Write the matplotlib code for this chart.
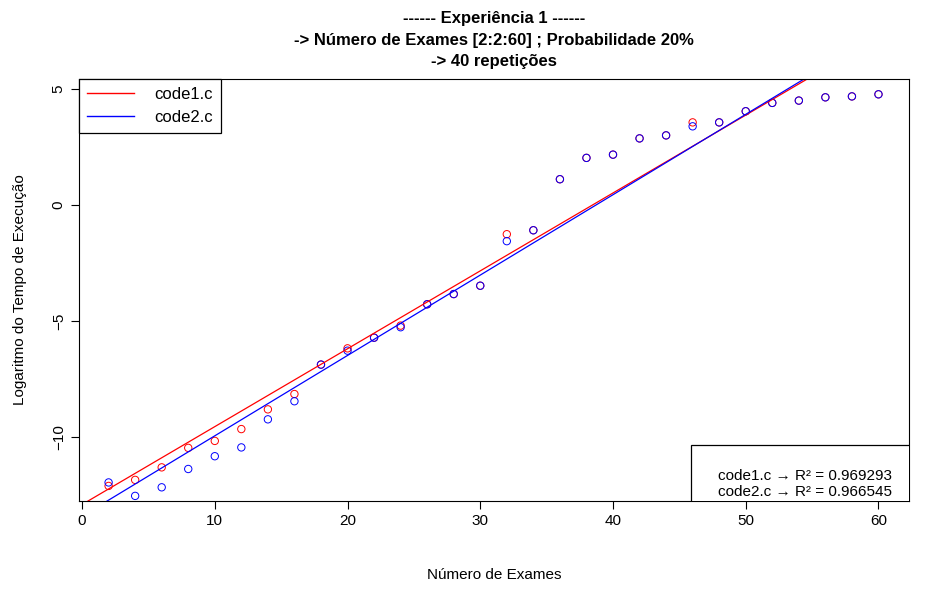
import numpy as np
import matplotlib
matplotlib.use('Agg')
import matplotlib.pyplot as plt
from matplotlib.patches import Rectangle

exames = np.arange(2, 61, 2)
code1 = [-12.11, -11.85, -11.31, -10.47, -10.17, -9.66, -8.81, -8.15, -6.88, -6.18,
         -5.72, -5.20, -4.28, -3.84, -3.48, -1.26, -1.09, 1.11, 2.03, 2.17,
         2.87, 3.00, 3.56, 3.56, 4.04, 4.40, 4.50, 4.64, 4.68, 4.77]
code2 = [-11.96, -12.54, -12.17, -11.38, -10.83, -10.45, -9.24, -8.46, -6.88, -6.28,
         -5.72, -5.27, -4.28, -3.84, -3.48, -1.56, -1.09, 1.11, 2.03, 2.17,
         2.87, 3.00, 3.39, 3.56, 4.04, 4.40, 4.50, 4.64, 4.68, 4.77]
r2 = {'code1.c': 0.969293, 'code2.c': 0.966545}

plt.rcParams['font.family'] = ['Liberation Sans', 'DejaVu Sans']
fig = plt.figure(figsize=(9.5, 6), dpi=100)
ax = fig.add_axes([79/950, 1 - 501/600, 830/950, 422/600])

ax.scatter(exames, code1, s=28, facecolors='none', edgecolors='red', linewidths=0.7)
ax.scatter(exames, code2, s=28, facecolors='none', edgecolors='blue', linewidths=0.7)

xs = np.array([-5, 70])
for data, col in [(code1, 'red'), (code2, 'blue')]:
    m, b = np.polyfit(exames, data, 1)
    ax.plot(xs, m * xs + b, color=col, lw=0.9)

ax.set_xlim(-0.23, 62.3)
ax.set_ylim(-12.76, 5.43)
ax.set_xticks([0, 10, 20, 30, 40, 50, 60])
ax.set_yticks([5, 0, -5, -10])
ax.tick_params(direction='out', length=6, labelsize=11)
for lab in ax.get_yticklabels():
    lab.set_rotation(90)
    lab.set_va('center')
ax.set_xlabel('Número de Exames', fontsize=11, labelpad=29)
ax.set_ylabel('Logaritmo do Tempo de Execução', fontsize=11, labelpad=18)
fig.text(0.52, 1 - 17/600, '------ Experiência 1 ------\n-> Número de Exames [2:2:60] ; Probabilidade 20%\n-> 40 repetições',
         fontsize=12, fontweight='bold', linespacing=1.55, ha='center', va='center')
fig.texts[-1].set_position((0.52, 1 - 40/600))

leg = ax.legend(handles=[plt.Line2D([], [], color='red', lw=1), plt.Line2D([], [], color='blue', lw=1)],
                labels=['code1.c', 'code2.c'], loc='upper left', fontsize=12,
                fancybox=False, framealpha=1, edgecolor='black', borderaxespad=0,
                handlelength=2.8, handletextpad=1.2, borderpad=0.5, labelspacing=0.45)
leg.get_frame().set_linewidth(0.9)

# caixa do R² colada ao canto inferior direito
bx0 = (691 - 79) / 830
by1 = (501 - 445) / 422
ax.add_patch(Rectangle((bx0, -0.01), 1.01 - bx0, by1 + 0.01, transform=ax.transAxes,
                       facecolor='white', edgecolor='black', lw=0.9, zorder=5, clip_on=True))
txt = '\n'.join('%s → R² = %.6f' % (k, v) for k, v in r2.items())
ax.text(0.979, 0.005, txt, transform=ax.transAxes, ha='right', va='bottom', fontsize=11,
        linespacing=1.15, zorder=6)

fig.savefig('out.png', dpi=100)
